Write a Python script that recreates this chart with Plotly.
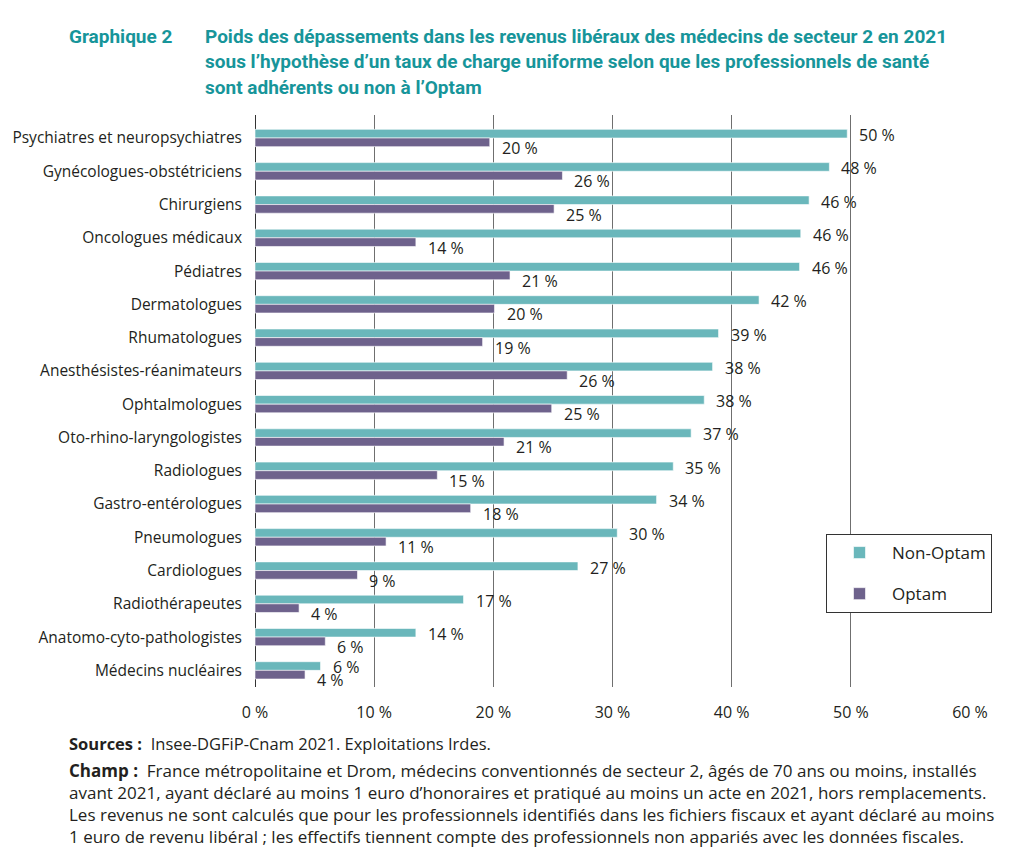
import plotly.graph_objects as go

categories = [
    "Psychiatres et neuropsychiatres", "Gynécologues-obstétriciens", "Chirurgiens",
    "Oncologues médicaux", "Pédiatres", "Dermatologues", "Rhumatologues",
    "Anesthésistes-réanimateurs", "Ophtalmologues", "Oto-rhino-laryngologistes",
    "Radiologues", "Gastro-entérologues", "Pneumologues", "Cardiologues",
    "Radiothérapeutes", "Anatomo-cyto-pathologistes", "Médecins nucléaires",
]
non_optam = [49.7, 48.2, 46.5, 45.8, 45.7, 42.3, 38.9, 38.4, 37.7, 36.6, 35.1, 33.7, 30.4, 27.1, 17.5, 13.5, 5.5]
optam = [19.7, 25.8, 25.1, 13.5, 21.4, 20.1, 19.1, 26.2, 24.9, 20.9, 15.3, 18.1, 11.0, 8.6, 3.7, 5.9, 4.2]
labels_non_optam = ["50 %", "48 %", "46 %", "46 %", "46 %", "42 %", "39 %", "38 %", "38 %", "37 %",
                    "35 %", "34 %", "30 %", "27 %", "17 %", "14 %", "6 %"]
labels_optam = ["20 %", "26 %", "25 %", "14 %", "21 %", "20 %", "19 %", "26 %", "25 %", "21 %",
                "15 %", "18 %", "11 %", "9 %", "4 %", "6 %", "4 %"]
x_ticks = [0, 10, 20, 30, 40, 50, 60]

TEAL = "#6ab7bb"
PURPLE = "#6e628c"
TITLE_COLOR = "#17959a"
TXT = "#231f20"
FONT = "Open Sans, Noto Sans, sans-serif"
TITLE_FONT = "Roboto, Open Sans, sans-serif"

# The page body has an 8px margin: work in page pixels, convert to figure pixels
OFF = 8
FIG_W, FIG_H = 1024 - OFF, 857 - 2 * OFF
# plot area in page pixels
L, R, T, B = 255, 970, 115, 687
W, H = R - L, B - T


def px(x):
    return (x - L) / W


def py(y):
    return (B - y) / H


fig = go.Figure()
fig.add_trace(go.Bar(
    name="Non-Optam", y=categories, x=non_optam, orientation="h",
    marker=dict(color=TEAL, line=dict(color="rgba(255,255,255,0.6)", width=1)),
    legendgroup="a",
))
fig.add_trace(go.Bar(
    name="Optam", y=categories, x=optam, orientation="h",
    marker=dict(color=PURPLE, line=dict(color="rgba(255,255,255,0.6)", width=1)),
    legendgroup="b",
))

LABEL_SIZE = 16
annotations = []
for cat, v, lab in zip(categories, non_optam, labels_non_optam):
    annotations.append(dict(x=v, y=cat, xref="x", yref="y", text=lab, showarrow=False,
                            xanchor="left", yanchor="middle", xshift=10, yshift=3,
                            font=dict(family=FONT, size=LABEL_SIZE, color=TXT)))
for cat, v, lab in zip(categories, optam, labels_optam):
    annotations.append(dict(x=v, y=cat, xref="x", yref="y", text=lab, showarrow=False,
                            xanchor="left", yanchor="middle", xshift=10, yshift=-10,
                            font=dict(family=FONT, size=LABEL_SIZE, color=TXT)))

# title
annotations.append(dict(x=px(67), y=py(37), xref="paper", yref="paper", text="<b>Graphique 2</b>",
                        showarrow=False, xanchor="left", yanchor="middle",
                        font=dict(family=TITLE_FONT, size=19, color=TITLE_COLOR)))
title_lines = [
    "Poids des dépassements dans les revenus libéraux des médecins de secteur 2 en 2021",
    "sous l’hypothèse d’un taux de charge uniforme selon que les professionnels de santé",
    "sont adhérents ou non à l’Optam",
]
for i, line in enumerate(title_lines):
    annotations.append(dict(x=px(203), y=py(37 + 25 * i), xref="paper", yref="paper",
                            text="<b>" + line + "</b>", showarrow=False,
                            xanchor="left", yanchor="middle",
                            font=dict(family=TITLE_FONT, size=19, color=TITLE_COLOR)))

# footer
annotations.append(dict(
    x=px(67), y=py(743), xref="paper", yref="paper",
    text="<b>Sources :</b>  Insee-DGFiP-Cnam 2021. Exploitations Irdes.",
    showarrow=False, xanchor="left", yanchor="middle",
    font=dict(family=FONT, size=16.5, color=TXT)))
champ_lines = [
    "<b>Champ :</b>  France métropolitaine et Drom, médecins conventionnés de secteur 2, âgés de 70 ans ou moins, installés",
    "avant 2021, ayant déclaré au moins 1 euro d’honoraires et pratiqué au moins un acte en 2021, hors remplacements.",
    "Les revenus ne sont calculés que pour les professionnels identifiés dans les fichiers fiscaux et ayant déclaré au moins",
    "1 euro de revenu libéral ; les effectifs tiennent compte des professionnels non appariés avec les données fiscales.",
]
annotations.append(dict(
    x=px(67), y=py(757), xref="paper", yref="paper", text="<br>".join(champ_lines),
    showarrow=False, xanchor="left", yanchor="top", align="left",
    font=dict(family=FONT, size=17, color=TXT)))

fig.update_layout(
    width=FIG_W, height=FIG_H,
    margin=dict(l=L - OFF, r=FIG_W - (R - OFF), t=T - OFF, b=FIG_H - (B - OFF), pad=0, autoexpand=False),
    paper_bgcolor="white", plot_bgcolor="white",
    barmode="group", bargap=0.48, bargroupgap=0,
    font=dict(family=FONT, size=16, color=TXT),
    showlegend=True,
    legend=dict(
        x=px(826), y=py(534), xanchor="left", yanchor="top",
        bgcolor="white", bordercolor="#333333", borderwidth=1,
        font=dict(family=FONT, size=17, color=TXT),
        tracegroupgap=16, itemwidth=55,
        traceorder="grouped",
    ),
    annotations=annotations,
)
fig.update_xaxes(
    range=[0, 60], tickvals=x_ticks, ticktext=[f"{t} %" for t in x_ticks],
    showgrid=True, gridcolor="#6f6f6f", gridwidth=1,
    zeroline=True, zerolinecolor="#333333", zerolinewidth=1.2,
    ticks="", ticklabelstandoff=14, tickfont=dict(size=16, color=TXT),
    fixedrange=True, automargin=False,
)
fig.update_yaxes(
    categoryorder="array", categoryarray=categories, autorange="reversed",
    showgrid=False, ticks="", ticklabelstandoff=12,
    tickfont=dict(size=15.5, color=TXT), fixedrange=True, automargin=False,
)

fig.write_html("out.html")
